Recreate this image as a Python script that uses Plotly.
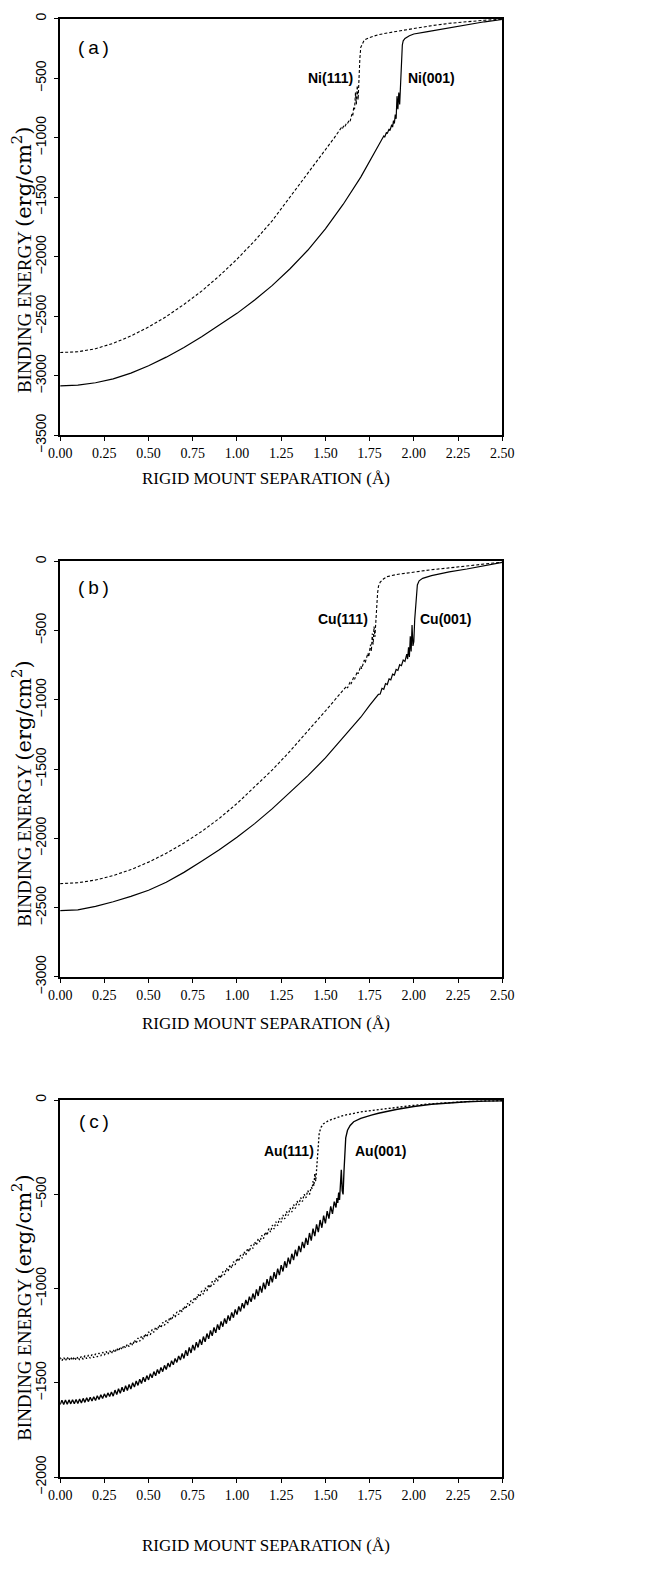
import plotly.graph_objects as go

# ---------------- data ----------------
NI001_X = [0.00, 0.10, 0.20, 0.30, 0.40, 0.50, 0.60, 0.70, 0.80, 0.90, 1.00, 1.10, 1.20, 1.30, 1.40, 1.50,
           1.60, 1.70, 1.75, 1.80, 1.82, 1.83, 1.835, 1.845, 1.85, 1.86, 1.865, 1.875, 1.88, 1.885, 1.89,
           1.895, 1.90, 1.905, 1.91, 1.915, 1.92, 1.925, 1.93, 1.935, 1.94, 1.95, 1.975, 2.00, 2.07, 2.15,
           2.20, 2.30, 2.40, 2.50]
NI001_Y = [-3085, -3078, -3058, -3025, -2977, -2915, -2843, -2762, -2672, -2575, -2475, -2362, -2240, -2100,
           -1945, -1765, -1560, -1330, -1200, -1065, -1010, -985, -995, -955, -965, -925, -940, -890, -910,
           -855, -880, -805, -840, -650, -760, -620, -720, -560, -330, -220, -185, -165, -142, -128, -110,
           -88, -75, -47, -25, -6]

NI111_X = [0.00, 0.10, 0.20, 0.30, 0.40, 0.50, 0.60, 0.70, 0.80, 0.90, 1.00, 1.10, 1.20, 1.30, 1.40, 1.50,
           1.55, 1.58, 1.59, 1.595, 1.605, 1.61, 1.62, 1.625, 1.635, 1.64, 1.65, 1.655, 1.66, 1.665, 1.67,
           1.675, 1.68, 1.685, 1.69, 1.695, 1.70, 1.71, 1.72, 1.75, 1.80, 1.90, 2.00, 2.10, 2.20, 2.30,
           2.40, 2.50]
NI111_Y = [-2804, -2798, -2772, -2727, -2665, -2590, -2502, -2400, -2288, -2160, -2020, -1865, -1695, -1500,
           -1300, -1100, -1000, -935, -915, -925, -895, -905, -875, -880, -850, -860, -800, -815, -740, -760,
           -620, -720, -560, -680, -450, -330, -240, -200, -178, -157, -133, -106, -80, -58, -38, -23, -12, -4]

CU001_X = [0.00, 0.10, 0.20, 0.30, 0.40, 0.50, 0.60, 0.70, 0.80, 0.90, 1.00, 1.10, 1.20, 1.30, 1.40, 1.50,
           1.60, 1.70, 1.75, 1.80, 1.81, 1.82, 1.83, 1.84, 1.85, 1.86, 1.87, 1.88, 1.89, 1.90, 1.91, 1.92,
           1.93, 1.94, 1.95, 1.96, 1.965, 1.97, 1.975, 1.98, 1.985, 1.99, 1.995, 2.00, 2.005, 2.01, 2.015,
           2.02, 2.03, 2.05, 2.10, 2.20, 2.30, 2.40, 2.50]
CU001_Y = [-2521, -2515, -2490, -2457, -2418, -2374, -2316, -2245, -2165, -2082, -1992, -1893, -1785, -1670,
           -1548, -1419, -1275, -1125, -1040, -960, -957, -916, -923, -882, -889, -848, -855, -814, -821,
           -780, -787, -746, -753, -712, -722, -670, -705, -620, -690, -540, -650, -460, -610, -580, -420,
           -320, -220, -170, -140, -122, -103, -75, -55, -33, -7]

CU111_X = [0.00, 0.10, 0.20, 0.30, 0.40, 0.50, 0.60, 0.70, 0.80, 0.90, 1.00, 1.10, 1.20, 1.30, 1.40, 1.50,
           1.55, 1.60, 1.62, 1.625, 1.64, 1.645, 1.66, 1.665, 1.68, 1.685, 1.70, 1.705, 1.72, 1.725, 1.74,
           1.745, 1.755, 1.76, 1.765, 1.77, 1.775, 1.78, 1.785, 1.79, 1.795, 1.80, 1.81, 1.83, 1.85, 1.90,
           2.00, 2.10, 2.20, 2.30, 2.40, 2.50]
CU111_Y = [-2326, -2320, -2300, -2268, -2225, -2171, -2107, -2033, -1950, -1855, -1748, -1630, -1505, -1370,
           -1228, -1080, -1005, -930, -900, -915, -868, -885, -835, -852, -795, -812, -755, -775, -712, -732,
           -662, -690, -600, -650, -520, -600, -470, -545, -420, -320, -230, -180, -150, -125, -110, -95,
           -75, -60, -47, -33, -20, -5]

AU001_X = [0.00, 0.01, 0.02, 0.03, 0.04, 0.05, 0.06, 0.07, 0.08, 0.09,
           0.10, 0.11, 0.12, 0.13, 0.14, 0.15, 0.16, 0.17, 0.18, 0.19,
           0.20, 0.21, 0.22, 0.23, 0.24, 0.25, 0.26, 0.27, 0.28, 0.29,
           0.30, 0.31, 0.32, 0.33, 0.34, 0.35, 0.36, 0.37, 0.38, 0.39,
           0.40, 0.41, 0.42, 0.43, 0.44, 0.45, 0.46, 0.47, 0.48, 0.49,
           0.50, 0.51, 0.52, 0.53, 0.54, 0.55, 0.56, 0.57, 0.58, 0.59,
           0.60, 0.61, 0.62, 0.63, 0.64, 0.65, 0.66, 0.67, 0.68, 0.69,
           0.70, 0.71, 0.72, 0.73, 0.74, 0.75, 0.76, 0.77, 0.78, 0.79,
           0.80, 0.81, 0.82, 0.83, 0.84, 0.85, 0.86, 0.87, 0.88, 0.89,
           0.90, 0.91, 0.92, 0.93, 0.94, 0.95, 0.96, 0.97, 0.98, 0.99,
           1.00, 1.01, 1.02, 1.03, 1.04, 1.05, 1.06, 1.07, 1.08, 1.09,
           1.10, 1.11, 1.12, 1.13, 1.14, 1.15, 1.16, 1.17, 1.18, 1.19,
           1.20, 1.21, 1.22, 1.23, 1.24, 1.25, 1.26, 1.27, 1.28, 1.29,
           1.30, 1.31, 1.32, 1.33, 1.34, 1.35, 1.36, 1.37, 1.38, 1.39,
           1.40, 1.41, 1.42, 1.43, 1.44, 1.45, 1.46, 1.47, 1.48, 1.49,
           1.50, 1.51, 1.52, 1.53, 1.54, 1.55,
           1.56, 1.565, 1.57, 1.575, 1.58, 1.585, 1.59, 1.595, 1.60, 1.605, 1.61, 1.615, 1.625, 1.64,
           1.66, 1.70, 1.76, 1.80, 1.90, 2.00, 2.10, 2.20, 2.30, 2.40, 2.50]
AU001_Y = [-1615, -1592, -1614, -1591, -1613, -1590, -1611, -1589, -1610, -1588,
           -1609, -1585, -1606, -1582, -1603, -1579, -1599, -1576, -1596, -1573,
           -1593, -1568, -1588, -1563, -1583, -1558, -1577, -1553, -1572, -1548,
           -1570, -1538, -1562, -1531, -1555, -1523, -1547, -1515, -1540, -1508,
           -1532, -1499, -1522, -1490, -1513, -1480, -1503, -1470, -1494, -1461,
           -1484, -1451, -1473, -1440, -1462, -1429, -1451, -1418, -1440, -1407,
           -1429, -1395, -1416, -1382, -1404, -1370, -1391, -1357, -1379, -1344,
           -1370, -1327, -1356, -1312, -1341, -1298, -1327, -1284, -1312, -1269,
           -1298, -1254, -1282, -1238, -1266, -1222, -1250, -1206, -1234, -1190,
           -1218, -1174, -1202, -1158, -1186, -1142, -1170, -1126, -1154, -1110,
           -1138, -1094, -1121, -1077, -1104, -1060, -1087, -1043, -1070, -1026,
           -1057, -1004, -1039, -986, -1021, -968, -1003, -950, -985, -932,
           -967, -913, -948, -894, -928, -875, -909, -855, -889, -836,
           -870, -815, -849, -794, -828, -773, -806, -752, -785, -731,
           -768, -705, -745, -682, -722, -659, -700, -636, -677, -613,
           -654, -589, -629, -564, -604, -539,
           -570, -520, -545, -490, -530, -440, -370, -480, -500, -380, -260, -200, -160, -135,
           -115, -97, -80, -70, -50, -34, -22, -14, -9, -6, -4]

AU111_X = [0.00, 0.01, 0.02, 0.03, 0.04, 0.05, 0.06, 0.07, 0.08, 0.09,
           0.10, 0.11, 0.12, 0.13, 0.14, 0.15, 0.16, 0.17, 0.18, 0.19,
           0.20, 0.21, 0.22, 0.23, 0.24, 0.25, 0.26, 0.27, 0.28, 0.29,
           0.30, 0.31, 0.32, 0.33, 0.34, 0.35, 0.36, 0.37, 0.38, 0.39,
           0.40, 0.41, 0.42, 0.43, 0.44, 0.45, 0.46, 0.47, 0.48, 0.49,
           0.50, 0.51, 0.52, 0.53, 0.54, 0.55, 0.56, 0.57, 0.58, 0.59,
           0.60, 0.61, 0.62, 0.63, 0.64, 0.65, 0.66, 0.67, 0.68, 0.69,
           0.70, 0.71, 0.72, 0.73, 0.74, 0.75, 0.76, 0.77, 0.78, 0.79,
           0.80, 0.81, 0.82, 0.83, 0.84, 0.85, 0.86, 0.87, 0.88, 0.89,
           0.90, 0.91, 0.92, 0.93, 0.94, 0.95, 0.96, 0.97, 0.98, 0.99,
           1.00, 1.01, 1.02, 1.03, 1.04, 1.05, 1.06, 1.07, 1.08, 1.09,
           1.10, 1.11, 1.12, 1.13, 1.14, 1.15, 1.16, 1.17, 1.18, 1.19,
           1.20, 1.21, 1.22, 1.23, 1.24, 1.25, 1.26, 1.27, 1.28, 1.29,
           1.30, 1.31, 1.32, 1.33, 1.34, 1.35, 1.36, 1.37, 1.38, 1.39,
           1.40, 1.41, 1.42,
           1.425, 1.43, 1.435, 1.44, 1.445, 1.45, 1.455, 1.46, 1.465, 1.475, 1.49, 1.52, 1.56, 1.60,
           1.70, 1.80, 1.90, 2.00, 2.10, 2.20, 2.30, 2.40, 2.50]
AU111_Y = [-1365, -1383, -1364, -1382, -1363, -1381, -1363, -1380, -1362, -1379,
           -1361, -1378, -1358, -1375, -1355, -1372, -1352, -1369, -1349, -1366,
           -1346, -1362, -1342, -1357, -1337, -1353, -1333, -1349, -1328, -1344,
           -1324, -1338, -1316, -1331, -1309, -1323, -1301, -1315, -1294, -1308,
           -1284, -1301, -1273, -1290, -1262, -1279, -1251, -1268, -1240, -1257,
           -1229, -1245, -1217, -1232, -1204, -1220, -1192, -1208, -1179, -1195,
           -1167, -1182, -1152, -1167, -1138, -1153, -1123, -1138, -1109, -1123,
           -1094, -1108, -1078, -1092, -1062, -1076, -1046, -1060, -1030, -1044,
           -1012, -1030, -995, -1013, -978, -996, -961, -979, -944, -962,
           -927, -944, -909, -927, -892, -909, -874, -891, -857, -874,
           -839, -856, -822, -839, -804, -822, -787, -804, -769, -787,
           -752, -769, -735, -752, -717, -735, -700, -717, -682, -700,
           -663, -684, -645, -666, -627, -648, -609, -630, -591, -612,
           -573, -594, -554, -575, -536, -557, -517, -538, -499, -519,
           -480, -501, -462,
           -470, -430, -455, -390, -430, -370, -300, -220, -175, -145, -125, -108, -93, -82,
           -63, -50, -38, -28, -20, -13, -8, -5, -3]

X_TICKS = [0.00, 0.25, 0.50, 0.75, 1.00, 1.25, 1.50, 1.75, 2.00, 2.25, 2.50]
X_TICK_TEXT = ["0.00", "0.25", "0.50", "0.75", "1.00", "1.25", "1.50", "1.75", "2.00", "2.25", "2.50"]
Y_TICKS_A = [0, -500, -1000, -1500, -2000, -2500, -3000, -3500]
Y_TICKS_B = [0, -500, -1000, -1500, -2000, -2500, -3000]
Y_TICKS_C = [0, -500, -1000, -1500, -2000]

PANELS = [
    # panel label, y-min, yticks, (111) curve, (001) curve, curve names, name x, name y, panel-label y
    ("(a)", -3500, Y_TICKS_A, (NI111_X, NI111_Y), (NI001_X, NI001_Y), ("Ni(111)", "Ni(001)"), (1.527, 2.10), -501, -237),
    ("(b)", -3000, Y_TICKS_B, (CU111_X, CU111_Y), (CU001_X, CU001_Y), ("Cu(111)", "Cu(001)"), (1.60, 2.18), -417, -191),
    ("(c)", -2000, Y_TICKS_C, (AU111_X, AU111_Y), (AU001_X, AU001_Y), ("Au(111)", "Au(001)"), (1.294, 1.81), -271, -116),
]

# ---------------- layout geometry (pixels) ----------------
W, H = 651, 1574
X_LEFT, X_RIGHT = 50.0, 509.0
PANEL_BOX = [(13, 436), (564, 986), (1111, 1494)]
XTITLE_Y = [480, 1033, None]   # last one sits on the bottom edge
YTITLE_Y = [258, 800, 1322]

fig = go.Figure()
annotations = []
SERIF = "Liberation Serif"
SANS = "Liberation Sans"
YTITLE = ("BINDING ENERGY <span style='font-family:DejaVu Serif;font-size:21px'>"
          "(erg/cm<sup>2</sup>)</span>")

for i, (plab, ymin, yticks, c111, c001, names, name_x, name_y, plab_y) in enumerate(PANELS):
    n = i + 1
    xa = "x" if n == 1 else f"x{n}"
    ya = "y" if n == 1 else f"y{n}"
    dash111 = "2px,2px" if n == 3 else "3px,2px"
    fig.add_trace(go.Scatter(x=c111[0], y=c111[1], mode="lines", xaxis=xa, yaxis=ya,
                             line=dict(color="black", width=1.3 if n == 3 else 1.1, dash=dash111),
                             showlegend=False))
    fig.add_trace(go.Scatter(x=c001[0], y=c001[1], mode="lines", xaxis=xa, yaxis=ya,
                             line=dict(color="black", width=1.35 if n == 3 else 1.2), showlegend=False))

    top, bot = PANEL_BOX[i]
    ydom = [1 - bot / H, 1 - top / H]
    xdom = [X_LEFT / W, X_RIGHT / W]
    xkey = "xaxis" if n == 1 else f"xaxis{n}"
    ykey = "yaxis" if n == 1 else f"yaxis{n}"
    fig.update_layout(**{
        xkey: dict(domain=xdom, anchor=ya, range=[0, 2.5], tickvals=X_TICKS, ticktext=X_TICK_TEXT,
                   ticks="outside", ticklen=4, tickwidth=1, tickcolor="black",
                   showline=True, linecolor="black", linewidth=1.6, mirror=True,
                   showgrid=False, zeroline=False,
                   tickfont=dict(family=SERIF, size=14, color="black")),
        ykey: dict(domain=ydom, anchor=xa, range=[ymin, 0], tickvals=yticks,
                   ticktext=[("\u2212" + str(-v)) if v != 0 else "0" for v in yticks],
                   ticks="outside", ticklen=4, tickwidth=1, tickcolor="black", tickangle=-90,
                   ticklabelstandoff=3,
                   showline=True, linecolor="black", linewidth=1.6, mirror=True,
                   showgrid=False, zeroline=False,
                   tickfont=dict(family=SANS, size=14, color="black")),
    })

    # curve labels
    for nm, nx in zip(names, name_x):
        annotations.append(dict(x=nx, y=name_y, xref=xa, yref=ya, text=f"<b>{nm}</b>", showarrow=False,
                                font=dict(family=SANS, size=14, color="black"),
                                xanchor="center", yanchor="middle"))
    # panel label
    annotations.append(dict(x=0.19, y=plab_y, xref=xa, yref=ya,
                            text=plab.replace("(", "(\u2009").replace(")", "\u2009)"), showarrow=False,
                            font=dict(family=SANS, size=19, color="black"),
                            xanchor="center", yanchor="middle"))
    # axis titles
    if XTITLE_Y[i] is None:
        xt_y, xt_anchor = 0.0, "bottom"
    else:
        xt_y, xt_anchor = 1 - XTITLE_Y[i] / H, "middle"
    annotations.append(dict(x=264 / W, y=xt_y, xref="paper", yref="paper",
                            text="RIGID MOUNT SEPARATION (\u00c5)", showarrow=False,
                            font=dict(family=SERIF, size=17, color="black"),
                            xanchor="center", yanchor=xt_anchor, borderpad=0))
    annotations.append(dict(x=27 / W, y=1 - YTITLE_Y[i] / H, xref="paper", yref="paper",
                            text=YTITLE, showarrow=False, textangle=-90,
                            font=dict(family=SERIF, size=19, color="black"),
                            xanchor="right", yanchor="middle"))

fig.update_layout(width=W, height=H, margin=dict(l=0, r=0, t=0, b=0),
                  paper_bgcolor="white", plot_bgcolor="white",
                  annotations=annotations, showlegend=False)

fig.write_html("out.html")
